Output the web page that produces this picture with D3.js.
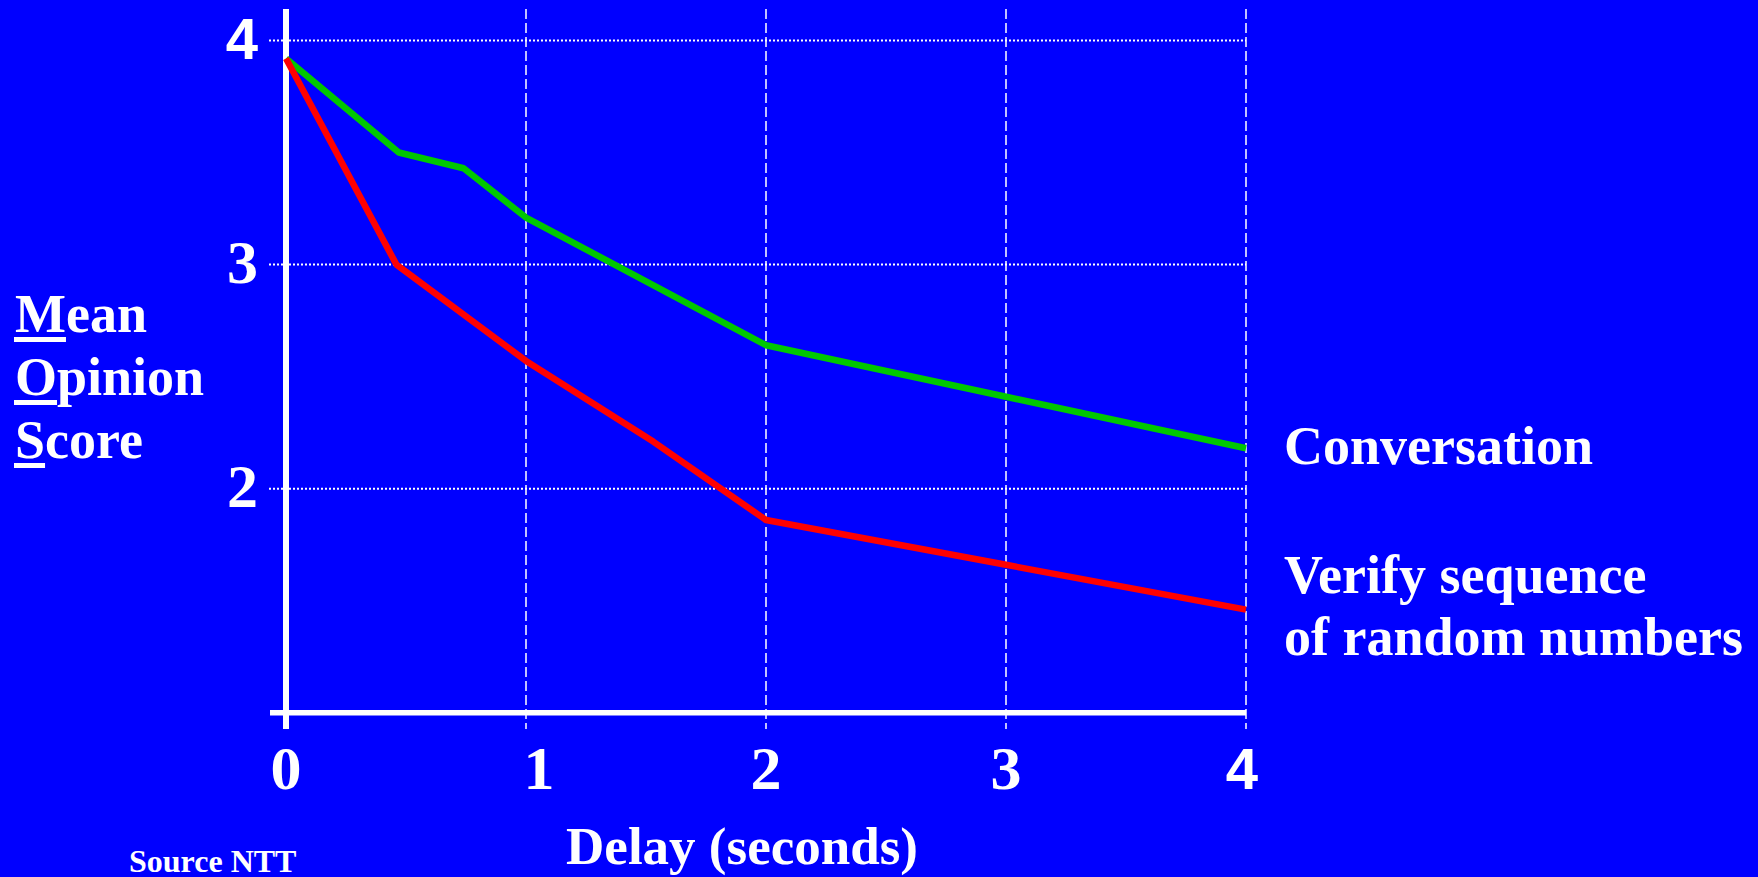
<!DOCTYPE html>
<html>
<head>
<meta charset="utf-8">
<script src="https://cdn.jsdelivr.net/npm/d3@7"></script>
<style>
  html, body { margin: 0; padding: 0; background: #0000ff; }
  svg { display: block; }
</style>
</head>
<body>
<div id="chart"></div>
<script>
// data
var convDelay = [0, 0.47, 0.74, 1, 2, 3, 4];
var convMos = [3.92, 3.50, 3.43, 3.21, 2.64, 2.41, 2.18];

var verifyDelay = [0, 0.46, 1, 1.53, 2, 3, 4];
var verifyMos = [3.92, 3.00, 2.57, 2.21, 1.86, 1.66, 1.46];

var xTicks = [0, 1, 2, 3, 4];
var yTicks = [2, 3, 4];
var yTitle = ["Mean", "Opinion", "Score"];

// dimensions
var width = 1758;
var height = 877;

var svg = d3.select("#chart")
    .append("svg")
    .attr("width", width)
    .attr("height", height);

svg.append("rect")
    .attr("width", width)
    .attr("height", height)
    .attr("fill", "#0000ff");

var x = d3.scaleLinear().domain([0, 4]).range([286, 1246]);
var y = d3.scaleLinear().domain([1, 4]).range([712.7, 40.5]);

var serif = "'Liberation Serif', 'Times New Roman', serif";
var sans = "'Liberation Sans', Arial, sans-serif";

// grid
svg.selectAll(".hgrid")
    .data(yTicks)
    .enter()
    .append("line")
    .attr("class", "hgrid")
    .attr("x1", 269)
    .attr("x2", x(4))
    .attr("y1", function (d) { return y(d); })
    .attr("y2", function (d) { return y(d); })
    .style("stroke", "#ffffff")
    .style("stroke-width", "2px")
    .style("stroke-dasharray", "2,2");

svg.selectAll(".vgrid")
    .data(xTicks.slice(1))
    .enter()
    .append("line")
    .attr("class", "vgrid")
    .attr("x1", function (d) { return x(d); })
    .attr("x2", function (d) { return x(d); })
    .attr("y1", 9)
    .attr("y2", 729)
    .style("stroke", "#ffffff")
    .style("stroke-width", "1.5px")
    .style("stroke-dasharray", "10,4");

// axes
svg.append("line")
    .attr("x1", 270)
    .attr("x2", x(4))
    .attr("y1", y(1))
    .attr("y2", y(1))
    .style("stroke", "#ffffff")
    .style("stroke-width", "5.5px");

svg.append("line")
    .attr("x1", x(0))
    .attr("x2", x(0))
    .attr("y1", 9)
    .attr("y2", 729)
    .style("stroke", "#ffffff")
    .style("stroke-width", "6px");

// tick labels
svg.selectAll(".xlabel")
    .data(xTicks)
    .enter()
    .append("text")
    .attr("class", "xlabel")
    .attr("x", function (d) { return x(d); })
    .attr("dx", function (d) { return d === 1 ? 13 : (d === 4 ? -4 : 0); })
    .attr("y", 789)
    .attr("text-anchor", "middle")
    .attr("font-family", function (d) { return d === 4 ? sans : serif; })
    .attr("font-size", function (d) { return d === 4 ? "58px" : "62px"; })
    .attr("font-weight", 700)
    .attr("fill", "#ffffff")
    .text(function (d) { return d; });

svg.selectAll(".ylabel")
    .data(yTicks)
    .enter()
    .append("text")
    .attr("class", "ylabel")
    .attr("x", 258)
    .attr("y", function (d) { return y(d) + 18; })
    .attr("text-anchor", "end")
    .attr("font-family", function (d) { return d === 4 ? sans : serif; })
    .attr("font-size", function (d) { return d === 4 ? "58px" : "62px"; })
    .attr("font-weight", 700)
    .attr("fill", "#ffffff")
    .text(function (d) { return d; });

// series
var line = d3.line()
    .x(function (d) { return x(d[0]); })
    .y(function (d) { return y(d[1]); });

var series = [
    { pts: d3.zip(convDelay, convMos), color: "#00c800" },
    { pts: d3.zip(verifyDelay, verifyMos), color: "#ff0000" }
];

svg.selectAll(".series")
    .data(series)
    .enter()
    .append("path")
    .attr("class", "series")
    .attr("d", function (d) { return line(d.pts); })
    .style("fill", "none")
    .style("stroke", function (d) { return d.color; })
    .style("stroke-width", "6.5px")
    .style("stroke-linejoin", "bevel");

// y title with underlined initials
yTitle.forEach(function (word, i) {
    var by = 332 + i * 63;
    var t = svg.append("text")
        .attr("x", 15)
        .attr("y", by)
        .attr("font-family", serif)
        .attr("font-size", "54px")
        .attr("font-weight", 700)
        .attr("fill", "#ffffff")
        .text(word);
    var w = t.node().getSubStringLength(0, 1);
    svg.append("rect")
        .attr("x", 14)
        .attr("y", by + 5)
        .attr("width", w + 1)
        .attr("height", 5)
        .attr("fill", "#ffffff");
});

// series labels
var rightLabels = [
    { text: "Conversation", y: 464 },
    { text: "Verify sequence", y: 593 },
    { text: "of random numbers", y: 655 }
];

svg.selectAll(".seriesLabel")
    .data(rightLabels)
    .enter()
    .append("text")
    .attr("class", "seriesLabel")
    .attr("x", 1284)
    .attr("y", function (d) { return d.y; })
    .attr("font-family", serif)
    .attr("font-size", "54px")
    .attr("font-weight", 700)
    .attr("fill", "#ffffff")
    .text(function (d) { return d.text; });

svg.append("text")
    .attr("x", 742)
    .attr("y", 864)
    .attr("text-anchor", "middle")
    .attr("font-family", serif)
    .attr("font-size", "53px")
    .attr("font-weight", 700)
    .attr("fill", "#ffffff")
    .text("Delay (seconds)");

svg.append("text")
    .attr("x", 129)
    .attr("y", 872)
    .attr("font-family", serif)
    .attr("font-size", "32px")
    .attr("font-weight", 700)
    .attr("fill", "#ffffff")
    .text("Source NTT");
</script>
</body>
</html>
